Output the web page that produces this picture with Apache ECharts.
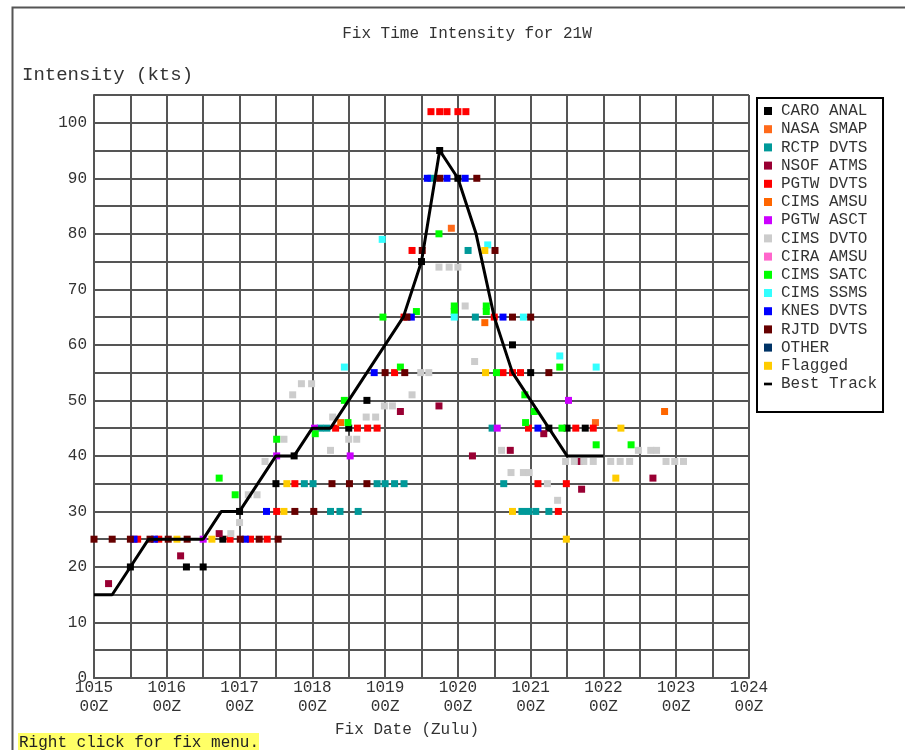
<!DOCTYPE html>
<html>
<head>
<meta charset="utf-8">
<title>Fix Time Intensity for 21W</title>
<script src="https://cdn.jsdelivr.net/npm/echarts@6/dist/echarts.min.js"></script>
<style>
    html, body { margin: 0; padding: 0; background: #fff; }
    #main { width: 905px; height: 750px; }
</style>
</head>
<body>
<div id="main"></div>
<script>
// x = day of month (10/15 00Z = 15.0), y = intensity in kts
var xTicks = [15, 16, 17, 18, 19, 20, 21, 22, 23, 24];
var yTicks = [0, 10, 20, 30, 40, 50, 60, 70, 80, 90, 100];

var caroAnal = [[15.5, 20], [16.27, 20], [16.5, 20], [16.77, 25], [17.0, 30], [17.5, 35], [17.75, 40],
    [18.5, 45], [18.75, 50], [19.5, 75], [19.75, 95], [20.0, 90], [20.75, 60], [21.0, 55],
    [21.25, 45], [21.5, 45], [21.75, 45]];
var nasaSmap = [[19.91, 81], [21.89, 46]];
var rctpDvts = [[17.89, 35], [18.01, 35], [18.89, 35], [19.0, 35], [19.13, 35], [19.26, 35],
    [18.25, 30], [18.38, 30], [18.63, 30], [18.11, 45], [18.2, 45], [19.63, 90], [20.14, 77],
    [20.24, 65], [20.47, 45], [20.63, 35], [20.88, 30], [20.97, 30], [21.07, 30], [21.25, 30]];
var nsofAtms = [[15.2, 17], [16.19, 22], [16.72, 26], [19.21, 48], [19.74, 49], [20.2, 40],
    [20.72, 41], [21.18, 44], [21.67, 39], [21.7, 34], [22.68, 36]];
var pgtwDvts = [[15.6, 25], [15.89, 25], [16.87, 25], [17.15, 25], [17.38, 25], [17.51, 30],
    [17.76, 35], [18.32, 45], [18.62, 45], [18.76, 45], [18.89, 45], [19.13, 55], [19.26, 65],
    [19.37, 77], [19.63, 102], [19.75, 102], [19.85, 102], [20.0, 102], [20.11, 102], [20.5, 65],
    [20.62, 55], [20.75, 55], [20.86, 55], [20.97, 45], [21.62, 45], [21.86, 45], [21.1, 35],
    [21.49, 35], [21.38, 30]];
var cimsAmsu = [[18.39, 46], [20.37, 64], [22.84, 48]];
var pgtwAsct = [[16.5, 25], [17.51, 40], [18.03, 45], [18.52, 40], [20.54, 45], [21.52, 50]];
var cimsDvto = [[16.88, 26], [17.0, 28], [17.12, 33], [17.24, 33], [17.35, 39], [17.61, 43],
    [17.73, 51], [17.85, 53], [17.99, 53], [18.25, 41], [18.28, 47], [18.5, 43], [18.61, 43],
    [18.74, 47], [18.87, 47], [18.99, 49], [19.1, 49], [19.37, 51], [19.49, 55], [19.6, 55],
    [19.74, 74], [19.88, 74], [20.0, 74], [20.1, 67], [20.23, 57], [20.6, 41], [20.73, 37],
    [20.9, 37], [20.98, 37], [21.23, 35], [21.37, 32], [21.48, 39], [21.6, 39], [21.73, 39],
    [21.86, 39], [22.1, 39], [22.23, 39], [22.36, 39], [22.48, 41], [22.65, 41], [22.73, 41],
    [22.86, 39], [22.98, 39], [23.1, 39]];
var ciraAmsu = [];
var cimsSatc = [[16.72, 36], [16.94, 33], [17.51, 43], [18.04, 44], [18.44, 50], [18.49, 46],
    [18.97, 65], [19.21, 56], [19.43, 66], [19.74, 80], [19.95, 66], [19.95, 67], [20.39, 66],
    [20.39, 67], [20.53, 55], [20.92, 51], [20.93, 46], [21.05, 48], [21.4, 56], [21.43, 45],
    [21.9, 42], [22.38, 42]];
var cimsSsms = [[18.44, 56], [18.96, 79], [19.95, 65], [20.41, 78], [20.9, 65], [21.4, 58], [21.9, 56]];
var knesDvts = [[15.55, 25], [15.83, 25], [17.08, 25], [17.37, 30], [18.85, 55], [19.36, 65],
    [19.58, 90], [19.85, 90], [20.1, 90], [20.62, 65], [21.1, 45]];
var rjtdDvts = [[15.0, 25], [15.25, 25], [15.5, 25], [15.77, 25], [16.02, 25], [16.28, 25],
    [17.01, 25], [17.27, 25], [17.53, 25], [17.76, 30], [18.02, 30], [18.27, 35], [18.51, 35],
    [18.75, 35], [19.0, 55], [19.27, 55], [19.3, 65], [19.51, 77], [19.75, 90], [20.26, 90],
    [20.51, 77], [20.75, 65], [21.0, 65], [21.25, 55]];
var other = [];
var flagged = [[16.14, 25], [16.62, 25], [17.61, 30], [17.65, 35], [20.37, 77], [20.38, 55],
    [20.75, 30], [21.49, 25], [22.24, 45], [22.17, 36]];
var bestTrack = [[15.0, 15], [15.25, 15], [15.5, 20], [15.75, 25], [16.5, 25], [16.75, 30],
    [17.0, 30], [17.5, 40], [17.75, 40], [18.0, 45], [18.25, 45], [19.25, 65], [19.5, 75],
    [19.75, 95], [20.0, 90], [20.25, 80], [20.5, 65], [20.75, 55], [21.0, 50], [21.25, 45],
    [21.5, 40], [22.0, 40]];

var fixNames = ['CARO ANAL', 'NASA SMAP', 'RCTP DVTS', 'NSOF ATMS', 'PGTW DVTS', 'CIMS AMSU',
    'PGTW ASCT', 'CIMS DVTO', 'CIRA AMSU', 'CIMS SATC', 'CIMS SSMS', 'KNES DVTS', 'RJTD DVTS',
    'OTHER', 'Flagged'];
var fixColors = ['#000000', '#ff6a1a', '#009999', '#990033', '#ff0000', '#ff6600', '#cc00ff',
    '#cccccc', '#ff66cc', '#00ff00', '#33ffff', '#0000ff', '#660000', '#003366', '#ffcc00'];
var fixData = [caroAnal, nasaSmap, rctpDvts, nsofAtms, pgtwDvts, cimsAmsu, pgtwAsct, cimsDvto,
    ciraAmsu, cimsSatc, cimsSsms, knesDvts, rjtdDvts, other, flagged];

var mono = "'Liberation Mono', 'DejaVu Sans Mono', monospace";
var gridColor = '#555';

window.onload = function () {
    var myChart = echarts.init(document.getElementById('main'));

    var series = [];
    var legendData = [];
    for (var i = 0; i < fixNames.length; i++) {
        series.push({
            name: fixNames[i],
            type: 'scatter',
            symbol: 'rect',
            symbolSize: 7,
            itemStyle: { color: fixColors[i], opacity: 1 },
            data: fixData[i]
        });
        legendData.push({ name: fixNames[i], icon: 'rect' });
    }
    // best track drawn over the fixes
    series.push({
        name: 'Best Track',
        type: 'line',
        symbol: 'none',
        lineStyle: { color: '#000', width: 3 },
        itemStyle: { color: '#000' },
        z: 5,
        data: bestTrack
    });
    legendData.push({ name: 'Best Track', icon: 'path://M0,0h12v4h-12z' });

    var option = {
        animation: false,
        backgroundColor: '#fff',
        title: {
            text: 'Fix Time Intensity for 21W',
            left: 462,
            top: 21,
            textAlign: 'center',
            textStyle: { fontFamily: mono, fontSize: 16, fontWeight: 'normal', color: '#333' }
        },
        legend: {
            orient: 'vertical',
            left: 757,
            top: 98,
            data: legendData,
            itemWidth: 8,
            itemHeight: 8,
            itemGap: 2.2,
            selectedMode: false,
            borderColor: '#000',
            borderWidth: 2,
            borderRadius: 0,
            padding: [5, 6, 20, 7],
            textStyle: { fontFamily: mono, fontSize: 16, color: '#333', padding: [0, 0, 0, 4] }
        },
        grid: {
            left: 94,
            right: 156,
            top: 95,
            bottom: 72
        },
        xAxis: {
            type: 'value',
            min: xTicks[0],
            max: xTicks[xTicks.length - 1],
            interval: 0.5,
            axisLine: { show: true, lineStyle: { color: gridColor, width: 2 } },
            axisTick: { show: false },
            splitLine: { show: true, lineStyle: { color: gridColor, width: 2 } },
            axisLabel: {
                margin: 0,
                fontFamily: mono,
                fontSize: 16,
                lineHeight: 19,
                color: '#333',
                showMinLabel: true,
                showMaxLabel: true,
                formatter: function (v) {
                    var r = Math.round(v);
                    if (Math.abs(v - r) > 1e-6 || xTicks.indexOf(r) < 0) return '';
                    return '10' + r + '\n00Z';
                }
            }
        },
        yAxis: {
            type: 'value',
            min: 0,
            max: 105,
            interval: 5,
            axisLine: { show: true, lineStyle: { color: gridColor, width: 2 } },
            axisTick: { show: false },
            splitLine: { show: true, lineStyle: { color: gridColor, width: 2 } },
            axisLabel: {
                margin: 7,
                fontFamily: mono,
                fontSize: 16,
                color: '#333',
                formatter: function (v) {
                    return yTicks.indexOf(v) >= 0 ? String(v) : '';
                }
            }
        },
        graphic: [
            {
                type: 'rect',
                left: 10,
                top: 5,
                shape: { width: 905, height: 760 },
                style: { fill: 'none', stroke: '#555', lineWidth: 2 }
            },
            {
                type: 'text',
                left: 22,
                top: 65,
                style: { text: 'Intensity (kts)', font: '19px ' + mono, fill: '#333' }
            },
            {
                type: 'text',
                left: 335,
                top: 722,
                style: { text: 'Fix Date (Zulu)', font: '16px ' + mono, fill: '#333' }
            },
            {
                type: 'rect',
                left: 18,
                top: 733,
                shape: { width: 241, height: 20 },
                style: { fill: '#ffff66' }
            },
            {
                type: 'text',
                left: 19,
                top: 735,
                style: { text: 'Right click for fix menu.', font: '16px ' + mono, fill: '#222' }
            }
        ],
        series: series
    };

    myChart.setOption(option);
};
</script>
</body>
</html>
